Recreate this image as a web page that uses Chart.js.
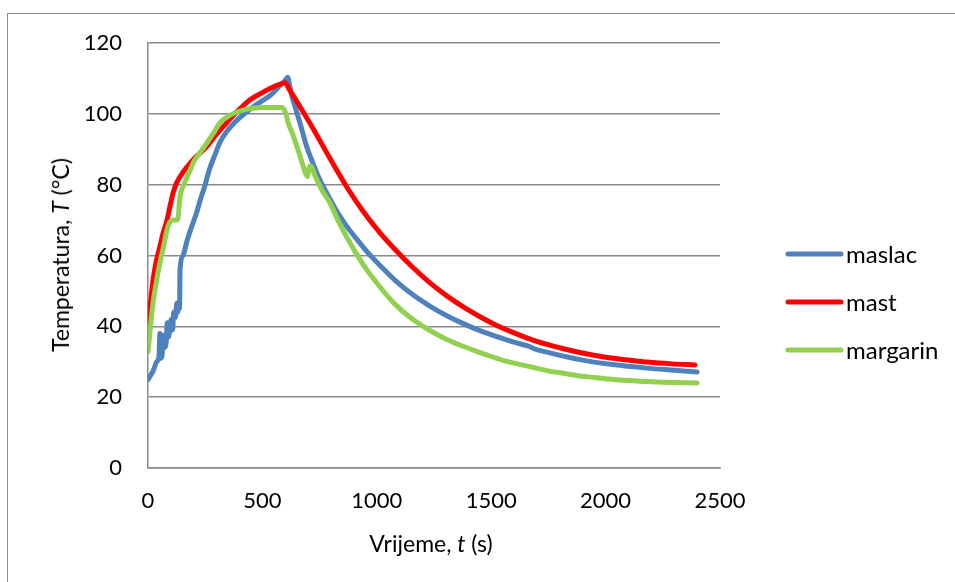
<!DOCTYPE html>
<html>
<head>
<meta charset="utf-8">
<script src="https://cdn.jsdelivr.net/npm/chart.js@4"></script>
<style>
  body { margin: 0; background: #fff; font-family: Lato, sans-serif; }
  #wrap { position: relative; width: 955px; height: 582px; overflow: hidden; }
  #frame { position: absolute; left: 7px; top: 13px; width: 1000px; height: 700px; border: 1px solid #8c8c8c; }
  canvas { position: absolute; left: 0; top: 0; }
  .axtitle { position: absolute; font-size: 23px; color: #000; white-space: nowrap; }
  #ytitle { left: 60px; top: 255px; transform: translate(-50%, -50%) rotate(-90deg); }
  #xtitle { left: 431px; top: 543px; transform: translate(-50%, -50%); }
</style>
</head>
<body>
<div id="wrap">
  <div id="frame"></div>
  <canvas id="myLineChart" width="955" height="582"></canvas>
  <div class="axtitle" id="ytitle">Temperatura, <i>T</i> (°C)</div>
  <div class="axtitle" id="xtitle">Vrijeme, <i>t</i> (s)</div>
</div>
<script>

// maslac (butter)
const maslacTime = [0, 10, 23, 38, 48, 52, 56, 62, 66, 72, 80, 84, 90, 96, 102, 108, 112, 120, 126, 130, 135, 138, 140, 153, 170, 190, 212, 230, 250, 267, 290, 315, 350, 402, 450, 490, 540, 577, 600, 610, 625, 645, 664, 690, 715, 750, 795, 830, 868, 920, 960, 1014, 1080, 1158, 1230, 1306, 1380, 1451, 1538, 1595, 1675, 1690, 1744, 1888, 2032, 2181, 2300, 2400];
const maslacTemp = [25, 26, 27.5, 30, 31.5, 38, 31, 32, 37.5, 34, 36, 41, 37, 40, 42, 39, 44, 42.5, 46.5, 44, 47, 45, 56, 60, 64, 68, 72, 76, 80, 84, 88, 92, 95.5, 99, 101.5, 103.3, 105.5, 108, 109.5, 110.3, 106, 101.5, 97.5, 91.5, 87, 81.5, 76, 72, 68.3, 64, 60.9, 57.2, 53, 48.9, 45.8, 43, 40.7, 38.8, 36.8, 35.6, 34.1, 33.6, 32.7, 30.6, 29.2, 28.2, 27.6, 27.1];

// mast (lard)
const mastTime = [0, 10, 22, 35, 52, 65, 83, 100, 109, 125, 153, 190, 220, 256, 290, 328, 380, 446, 500, 547, 585, 600, 615, 660, 722, 790, 868, 940, 1014, 1080, 1158, 1230, 1306, 1380, 1451, 1520, 1595, 1670, 1744, 1820, 1888, 1960, 2032, 2110, 2181, 2290, 2391];
const mastTemp = [38, 46, 53, 58, 62.5, 66, 70, 75, 77.5, 80.5, 83.5, 86.5, 88.5, 90.7, 93.5, 96.3, 100, 104, 106, 107.6, 108.5, 108.8, 107.2, 102.5, 95.8, 88, 79.4, 72.5, 66.4, 61.7, 56.6, 52.4, 48.6, 45.4, 42.7, 40.4, 38.3, 36.4, 34.9, 33.6, 32.6, 31.7, 31, 30.4, 29.9, 29.4, 29.1];

// margarin
const margarinTime = [0, 8, 22, 35, 52, 68, 83, 96, 110, 131, 136, 140, 153, 180, 200, 227, 260, 290, 315, 350, 402, 450, 500, 585, 600, 615, 634, 660, 690, 697, 705, 712, 730, 760, 795, 830, 868, 940, 1014, 1080, 1158, 1230, 1306, 1380, 1451, 1538, 1595, 1670, 1744, 1820, 1888, 1960, 2032, 2110, 2181, 2290, 2400];
const margarinTemp = [32.8, 38, 46.6, 52, 57.9, 62.5, 67.2, 69.5, 70, 70.2, 74, 76.6, 79.4, 83.5, 86.5, 89, 92, 95, 97.5, 99.3, 100.8, 101.5, 101.8, 101.8, 100.5, 97, 94, 89, 83, 82.3, 85, 85.3, 82.5, 78.5, 74.9, 70, 65.3, 57.5, 51.1, 46.2, 41.9, 38.9, 36.3, 34.3, 32.6, 30.7, 29.7, 28.6, 27.5, 26.7, 26, 25.5, 25, 24.7, 24.4, 24.15, 24];

const seriesNames = ['maslac', 'mast', 'margarin'];
const seriesColors = ['#4f81bd', '#ff0000', '#92d050'];

const xTicks = [0, 500, 1000, 1500, 2000, 2500];
const yTicks = [0, 20, 40, 60, 80, 100, 120];

function toPoints(xs, ys) {
  return xs.map((x, i) => ({ x: x, y: ys[i] }));
}

// legend drawn next to the plot, like the original
const sideLegend = {
  id: 'sideLegend',
  afterDraw(chart) {
    const ctx = chart.ctx;
    ctx.save();
    ctx.font = '24px Lato, sans-serif';
    ctx.textBaseline = 'middle';
    ctx.fillStyle = '#000';
    chart.data.datasets.forEach((ds, i) => {
      const y = 254 + i * 48;
      ctx.strokeStyle = ds.borderColor;
      ctx.lineWidth = 5;
      ctx.lineCap = 'round';
      ctx.beginPath();
      ctx.moveTo(788, y);
      ctx.lineTo(841, y);
      ctx.stroke();
      ctx.fillText(ds.label, 846, y + 1);
    });
    ctx.restore();
  }
};

function renderLineChart() {
  const ctx = document.getElementById('myLineChart').getContext('2d');
  const lists = [[maslacTime, maslacTemp], [mastTime, mastTemp], [margarinTime, margarinTemp]];

  new Chart(ctx, {
    type: 'scatter',
    data: {
      datasets: lists.map((l, i) => ({
        label: seriesNames[i],
        data: toPoints(l[0], l[1]),
        showLine: true,
        borderColor: seriesColors[i],
        backgroundColor: seriesColors[i],
        borderWidth: 5,
        borderCapStyle: 'round',
        borderJoinStyle: 'round',
        pointRadius: 0,
        cubicInterpolationMode: 'monotone',
        order: 3 - i
      }))
    },
    options: {
      responsive: false,
      animation: false,
      layout: { padding: { left: 0, top: 43, right: 235, bottom: 0 } },
      plugins: { legend: { display: false }, tooltip: { enabled: false } },
      scales: {
        x: {
          type: 'linear',
          min: 0,
          max: 2500,
          afterFit: s => { s.height = 114; },
          afterBuildTicks: s => { s.ticks = xTicks.map(v => ({ value: v })); },
          grid: { display: false, drawTicks: false },
          border: { display: true, color: '#8a8a8a', width: 1.5 },
          ticks: { padding: 20, color: '#000', font: { family: 'Lato', size: 22 }, callback: v => String(v) }
        },
        y: {
          min: 0,
          max: 120,
          afterFit: s => { s.width = 148; },
          afterBuildTicks: s => { s.ticks = yTicks.map(v => ({ value: v })); },
          grid: { color: '#8a8a8a', lineWidth: 1.5, drawTicks: false },
          border: { display: true, color: '#8a8a8a', width: 1.5 },
          ticks: { padding: 26, color: '#000', font: { family: 'Lato', size: 22 }, callback: v => String(v) }
        }
      }
    },
    plugins: [sideLegend]
  });
}

renderLineChart();
</script>
</body>
</html>
